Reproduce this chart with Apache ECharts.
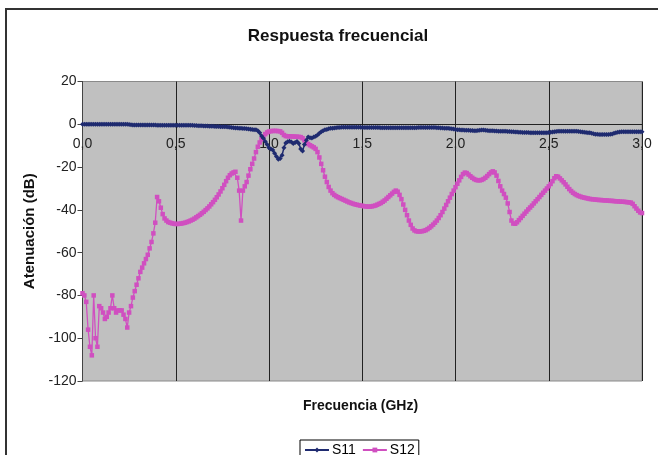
<!DOCTYPE html>
<html><head><meta charset="utf-8">
<script src="https://cdn.jsdelivr.net/npm/echarts@6/dist/echarts.min.js"></script>
<style>html,body{margin:0;padding:0;background:#fff}#c{width:658px;height:455px}</style>
</head><body><div id="c"></div>
<script>
const TITLE = 'Respuesta frecuencial';
const X_NAME = 'Frecuencia (GHz)';
const Y_NAME = 'Atenuación (dB)';
const SERIES_NAMES = ['S11', 'S12'];
const FREQ_START = 0, FREQ_STEP = 0.01; // GHz sampling grid
const X_TICKS = [0, 0.5, 1, 1.5, 2, 2.5, 3];
const Y_TICKS = [-120, -100, -80, -60, -40, -20, 0, 20];

const S11 = [
0,0,0,0,0,0,0,0,0,0,
0,0,0,0,0,0,0,0,0,0,
0,0,0,0,0,-0.1,-0.2,-0.3,-0.3,-0.3,
-0.3,-0.3,-0.3,-0.3,-0.3,-0.3,-0.3,-0.3,-0.3,-0.3,
-0.4,-0.4,-0.4,-0.4,-0.4,-0.4,-0.4,-0.4,-0.4,-0.4,
-0.5,-0.5,-0.5,-0.5,-0.5,-0.5,-0.5,-0.5,-0.5,-0.5,
-0.6,-0.6,-0.7,-0.7,-0.7,-0.8,-0.8,-0.8,-0.9,-0.9,
-0.9,-1,-1,-1,-1.1,-1.1,-1.2,-1.2,-1.3,-1.4,
-1.5,-1.6,-1.7,-1.7,-1.8,-1.9,-2,-2,-2.1,-2.2,
-2.3,-2.4,-2.5,-2.6,-3,-4,-5.5,-6.5,-8,-9.5,
-11,-11.5,-12,-13.5,-15,-16.3,-16,-14.5,-11,-8.7,
-8.2,-7.9,-8.3,-9,-8.5,-8,-9,-11.5,-12.5,-9.5,
-7.5,-6,-6.3,-6.4,-6,-5.6,-5,-4.2,-3.5,-3,
-2.6,-2.4,-2.1,-1.9,-1.8,-1.7,-1.6,-1.5,-1.5,-1.4,
-1.4,-1.4,-1.4,-1.4,-1.4,-1.4,-1.4,-1.4,-1.4,-1.4,
-1.5,-1.5,-1.5,-1.5,-1.5,-1.5,-1.5,-1.5,-1.5,-1.5,
-1.6,-1.6,-1.6,-1.6,-1.6,-1.6,-1.6,-1.6,-1.6,-1.6,
-1.6,-1.6,-1.6,-1.6,-1.6,-1.6,-1.6,-1.6,-1.6,-1.6,
-1.5,-1.5,-1.5,-1.5,-1.5,-1.5,-1.5,-1.5,-1.5,-1.5,
-1.6,-1.6,-1.7,-1.7,-1.8,-1.8,-1.9,-2,-2.1,-2.2,
-2.4,-2.5,-2.6,-2.7,-2.7,-2.8,-2.8,-2.8,-2.9,-2.9,
-3,-3,-2.9,-2.8,-2.7,-2.7,-2.8,-2.9,-3,-3,
-3,-3.1,-3.1,-3.2,-3.2,-3.3,-3.3,-3.3,-3.4,-3.4,
-3.5,-3.5,-3.6,-3.6,-3.7,-3.7,-3.8,-3.8,-3.8,-3.8,
-3.9,-3.9,-3.9,-3.9,-3.9,-3.9,-3.9,-3.9,-3.9,-3.9,
-3.8,-3.7,-3.6,-3.5,-3.4,-3.3,-3.3,-3.3,-3.3,-3.3,
-3.3,-3.2,-3.2,-3.2,-3.3,-3.3,-3.4,-3.5,-3.6,-3.7,
-3.8,-3.9,-4,-4.2,-4.4,-4.6,-4.7,-4.8,-4.8,-4.8,
-4.8,-4.8,-4.8,-4.7,-4.5,-4.2,-3.9,-3.7,-3.6,-3.5,
-3.5,-3.5,-3.5,-3.5,-3.5,-3.5,-3.5,-3.5,-3.5,-3.5,
-3.5
];

const S12 = [
-79,-80,-83,-96,-104,-108,-80,-100,-104,-85,
-86,-88,-91,-90,-88,-86,-80,-86,-88,-87,
-87,-87,-89,-91,-95,-88,-85,-81,-78,-75,
-72,-69,-67,-65,-63,-61,-58,-55,-51,-46,
-34,-36,-39,-42,-44,-45,-45.7,-46,-46.3,-46.5,
-46.6,-46.6,-46.5,-46.4,-46.2,-46,-45.7,-45.4,-45,-44.6,
-44.1,-43.5,-42.9,-42.3,-41.6,-40.9,-40.1,-39.3,-38.4,-37.4,
-36.4,-35.3,-34.1,-32.8,-31.4,-29.9,-28.3,-26.6,-25,-23.8,
-23,-22.5,-22.2,-25,-31,-45,-31,-29,-27,-24,
-21,-18.5,-16,-13,-10.5,-8.5,-7,-5.8,-4.6,-3.8,
-3.4,-3.2,-3.1,-3.1,-3.1,-3.2,-3.3,-4,-5,-5.5,
-5.6,-5.6,-5.7,-5.7,-5.8,-5.8,-5.9,-6,-6.5,-7.5,
-8.5,-9.2,-9.8,-10.3,-10.8,-11.5,-13,-15.5,-18.5,-21.5,
-24.5,-27,-29.3,-31,-32.2,-33,-33.6,-34.1,-34.5,-34.9,
-35.3,-35.7,-36.1,-36.5,-36.8,-37.1,-37.4,-37.6,-37.8,-38,
-38.1,-38.3,-38.4,-38.5,-38.5,-38.4,-38.2,-38,-37.6,-37.2,
-36.8,-36.2,-35.6,-34.8,-34,-33.2,-32.4,-31.6,-31,-31.5,
-33,-35,-37.5,-40,-42.5,-45,-47,-48.7,-49.6,-50,
-50.1,-50.1,-50,-49.8,-49.5,-49,-48.4,-47.7,-46.9,-46,
-45,-43.8,-42.5,-41,-39.4,-37.7,-36,-34.3,-32.6,-31,
-29.4,-27.8,-26.2,-24.6,-23.3,-22.6,-22.8,-23.5,-24.3,-25,
-25.6,-26,-26.2,-26.2,-26,-25.6,-25,-24.2,-23.3,-22.5,
-22,-22.5,-24,-26.5,-29,-31,-32.6,-34.3,-37,-41,
-45,-46.4,-46.5,-45.8,-44.8,-43.8,-42.8,-41.8,-40.8,-39.8,
-38.9,-38,-37,-36,-35,-34,-33,-32,-31,-30,
-29,-27.9,-26.6,-25.2,-24.3,-24.5,-25.3,-26.2,-27.1,-28.1,
-29.2,-30.3,-31.2,-32,-32.6,-33.1,-33.5,-33.8,-34.1,-34.3,
-34.5,-34.7,-34.9,-35,-35.1,-35.2,-35.3,-35.4,-35.4,-35.5,
-35.6,-35.6,-35.7,-35.8,-35.8,-35.9,-36,-36,-36.1,-36.2,
-36.2,-36.3,-36.4,-36.5,-36.6,-37.2,-38.3,-39.4,-40.4,-41.2,
-41.5
];

function pairs(vals) {
  return vals.map((v, i) => [+(FREQ_START + i * FREQ_STEP).toFixed(2), v]);
}

const FONT = 'Liberation Sans, Arial, sans-serif';
const GRID = {left: 82.5, right: 16, top: 81.5, bottom: 74};
const plotH = 455 - GRID.top - GRID.bottom;
const yMin = Y_TICKS[0], yMax = Y_TICKS[Y_TICKS.length - 1];
const zeroOffset = -plotH * (0 - yMin) / (yMax - yMin); // move x axis up to y = 0

const chart = echarts.init(document.getElementById('c'), null, {renderer: 'canvas'});
chart.setOption({
  animation: false,
  backgroundColor: '#ffffff',
  title: {
    text: TITLE, left: 333, top: 23, textAlign: 'center',
    textStyle: {fontFamily: FONT, fontSize: 17, fontWeight: 'bold', color: '#111'}
  },
  legend: {
    data: SERIES_NAMES, left: 300, top: 440,
    borderColor: '#000', borderWidth: 1, padding: [3, 4, 8, 4],
    itemWidth: 24, itemHeight: 6, itemGap: 6,
    textStyle: {fontFamily: FONT, fontSize: 14, color: '#000', padding: [0, 0, 0, -2]}
  },
  graphic: [{
    type: 'rect', shape: {x: 6, y: 9, width: 700, height: 500},
    style: {fill: 'none', stroke: '#333', lineWidth: 2}, silent: true, z: -1
  }, {
    type: 'text', left: 303, top: 399,
    style: {text: X_NAME, font: 'bold 14px ' + FONT, fill: '#111'}, silent: true
  }],
  grid: Object.assign({
    outerBoundsMode: 'none', containLabel: false,
    show: true, backgroundColor: '#c0c0c0', borderColor: '#8a8a8a', borderWidth: 1
  }, GRID),
  xAxis: {
    type: 'value', min: X_TICKS[0], max: X_TICKS[X_TICKS.length - 1], interval: 0.5,
    position: 'bottom', offset: zeroOffset,
    axisLine: {onZero: false, lineStyle: {color: '#222', width: 1}},
    axisTick: {show: false},
    axisLabel: {fontFamily: FONT, fontSize: 14, color: '#222', margin: 13,
      formatter: v => v.toFixed(1).replace('.', ','), showMinLabel: true, showMaxLabel: true},
    splitLine: {show: true, lineStyle: {color: '#222', width: 1}}
  },
  yAxis: {
    type: 'value', min: yMin, max: yMax, interval: 20,
    name: Y_NAME, nameLocation: 'middle', nameGap: 43,
    nameTextStyle: {fontFamily: FONT, fontSize: 15, fontWeight: 'bold', color: '#111'},
    axisLine: {show: true, onZero: false, lineStyle: {color: '#444'}},
    axisTick: {show: true, inside: false, length: 5, lineStyle: {color: '#444'}},
    axisLabel: {fontFamily: FONT, fontSize: 14, color: '#222', margin: 6},
    splitLine: {show: false}
  },
  series: [
    {name: SERIES_NAMES[0], type: 'line', data: pairs(S11), color: '#1f2b70',
     symbol: 'diamond', symbolSize: 5, showSymbol: true, lineStyle: {width: 1.5, color: '#1f2b70'},
     itemStyle: {color: '#1f2b70'}, z: 3},
    {name: SERIES_NAMES[1], type: 'line', data: pairs(S12), color: '#d04fc0',
     symbol: 'rect', symbolSize: 4.5, showSymbol: true, lineStyle: {width: 1.3, color: '#d04fc0'},
     itemStyle: {color: '#d04fc0'}, z: 2}
  ]
});
</script>
</body></html>
